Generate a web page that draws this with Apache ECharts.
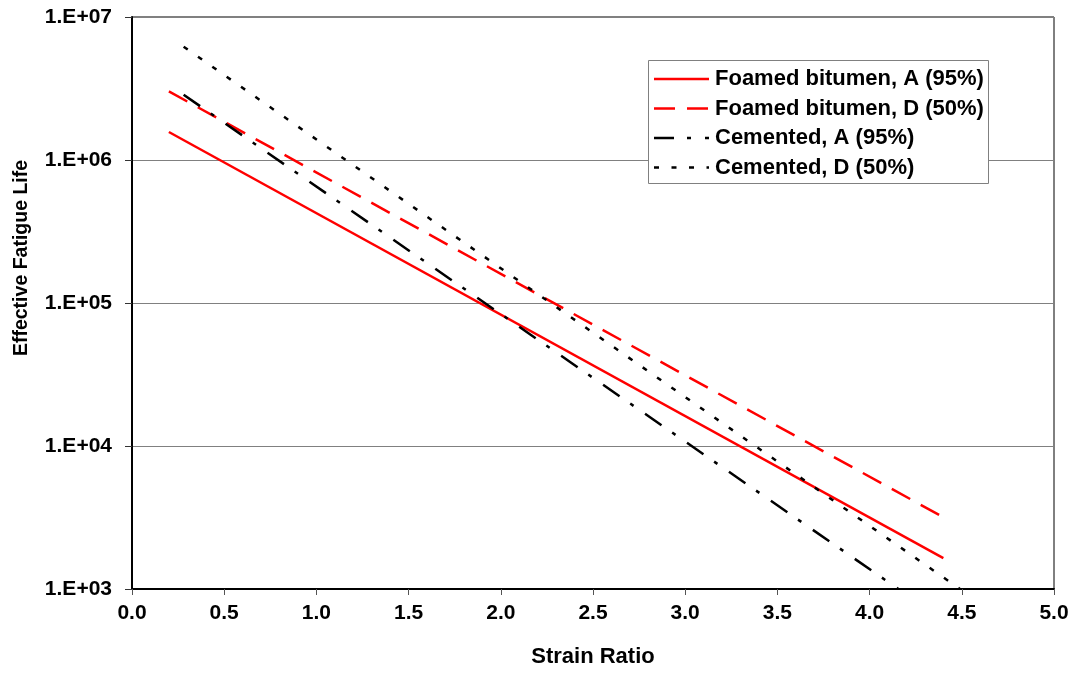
<!DOCTYPE html>
<html>
<head>
<meta charset="utf-8">
<title>Effective Fatigue Life vs Strain Ratio</title>
<script src="https://cdn.jsdelivr.net/npm/echarts@6/dist/echarts.min.js"></script>
<style>
  html, body { margin: 0; padding: 0; background: #fff; }
  #chart { width: 1077px; height: 673px; }
</style>
</head>
<body>
<div id="chart"></div>
<script>
// Transfer functions: strain ratio (x) against effective fatigue life (y, log scale)
const seriesNames = [
  'Foamed bitumen, A (95%)',
  'Foamed bitumen, D (50%)',
  'Cemented, A (95%)',
  'Cemented, D (50%)'
];
const strainFoamA = [0.2, 4.4];
const lifeFoamA = [1.57e6, 1644];
const strainFoamD = [0.2, 4.4];
const lifeFoamD = [3.02e6, 3175];
const strainCemA = [0.28, 4.156];
const lifeCemA = [2.86e6, 1000];
const strainCemD = [0.28, 4.49];
const lifeCemD = [6.2e6, 1000];

const xTicks = ['0.0', '0.5', '1.0', '1.5', '2.0', '2.5', '3.0', '3.5', '4.0', '4.5', '5.0'];
const yTicks = ['1.E+03', '1.E+04', '1.E+05', '1.E+06', '1.E+07'];

const FONT = '"Liberation Sans", Arial, sans-serif';

// line styles shared by the plotted series and the key
const styles = [
  { color: '#ff0000', width: 2.5, type: 'solid', dash: null },
  { color: '#ff0000', width: 2.5, type: [21, 12], dash: [21, 12] },
  { color: '#000000', width: 2.5, type: [20, 13, 4, 14], dash: [20, 13, 4, 14] },
  { color: '#000000', width: 2.5, type: [5, 12.5], dash: [5, 12.5] }
];

function pairs(xs, ys) {
  return xs.map((x, i) => [x, ys[i]]);
}

// boxed key in the upper right of the plot
const keyBox = { x: 648, y: 60, w: 340, h: 123 };
const keyRows = [79, 108.5, 138, 167.5];
const keyElements = [{
  type: 'rect', z: 100,
  shape: { x: keyBox.x + 0.5, y: keyBox.y + 0.5, width: keyBox.w, height: keyBox.h },
  style: { fill: '#fff', stroke: '#808080', lineWidth: 1 }
}];
seriesNames.forEach((name, i) => {
  const st = styles[i];
  keyElements.push({
    type: 'line', z: 101,
    shape: { x1: 654, y1: keyRows[i], x2: 709, y2: keyRows[i] },
    style: { stroke: st.color, lineWidth: st.width, lineDash: st.dash || null }
  });
  keyElements.push({
    type: 'text', z: 101,
    x: 715, y: keyRows[i],
    style: {
      text: name, fontFamily: FONT, fontWeight: 'bold', fontSize: 22, fill: '#000',
      align: 'left', verticalAlign: 'middle'
    }
  });
});

const chart = echarts.init(document.getElementById('chart'), null, { renderer: 'canvas' });

const lineBase = { type: 'line', symbol: 'none', showSymbol: false, animation: false, clip: true };
const dataSets = [
  pairs(strainFoamA, lifeFoamA),
  pairs(strainFoamD, lifeFoamD),
  pairs(strainCemA, lifeCemA),
  pairs(strainCemD, lifeCemD)
];
const zOrder = [4, 3, 5, 5];

chart.setOption({
  animation: false,
  backgroundColor: '#fff',
  grid: {
    left: 132, right: 23, top: 17, bottom: 82,
    show: true, borderColor: '#000', borderWidth: 1, backgroundColor: 'transparent'
  },
  xAxis: {
    type: 'value', min: 0, max: 5, interval: 0.5,
    name: 'Strain Ratio', nameLocation: 'middle', nameGap: 57,
    nameTextStyle: { fontFamily: FONT, fontWeight: 'bold', fontSize: 22, color: '#000' },
    axisLine: { show: true, onZero: false, lineStyle: { color: '#000', width: 2 } },
    axisTick: { show: true, inside: false, length: 6, lineStyle: { color: '#555', width: 1 } },
    axisLabel: {
      margin: 14, fontFamily: FONT, fontWeight: 'bold', fontSize: 21, color: '#000',
      formatter: v => xTicks[Math.round(v / 0.5)]
    },
    splitLine: { show: false }
  },
  yAxis: {
    type: 'log', logBase: 10, min: 1000, max: 1e7,
    axisLine: { show: true, onZero: false, lineStyle: { color: '#000', width: 2 } },
    axisTick: { show: true, inside: false, length: 7, lineStyle: { color: '#333', width: 1 } },
    axisLabel: {
      margin: 20, fontFamily: FONT, fontWeight: 'bold', fontSize: 21, color: '#000',
      formatter: v => yTicks[Math.round(Math.log10(v)) - 3]
    },
    splitLine: { show: true, lineStyle: { color: '#808080', width: 1 } },
    minorTick: { show: false }
  },
  graphic: [{
    type: 'text',
    x: 22, y: 258,
    rotation: Math.PI / 2,
    style: {
      text: 'Effective Fatigue Life',
      fontFamily: FONT, fontWeight: 'bold', fontSize: 19.5, fill: '#000',
      align: 'center', verticalAlign: 'middle'
    }
  }].concat(keyElements),
  series: seriesNames.map((name, i) => Object.assign({}, lineBase, {
    name: name,
    data: dataSets[i],
    z: zOrder[i],
    lineStyle: { color: styles[i].color, width: styles[i].width, type: styles[i].type },
    itemStyle: { color: styles[i].color }
  }))
});
</script>
</body>
</html>
